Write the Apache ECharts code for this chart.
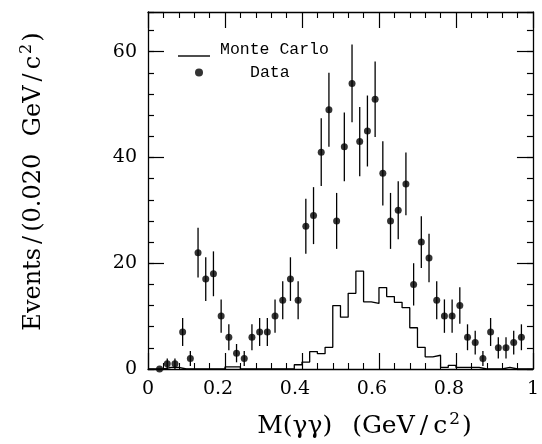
<!DOCTYPE html>
<html>
<head>
<meta charset="utf-8">
<style>
  html, body { margin: 0; padding: 0; background: #fff; }
  #chart { width: 542px; height: 444px; }
</style>
<script src="https://cdn.jsdelivr.net/npm/echarts@6/dist/echarts.min.js"></script>
</head>
<body>
<div id="chart"></div>
<script>
// Two-photon invariant mass spectrum, 0.020 GeV/c^2 bins from 0 to 1 GeV/c^2.
const binWidth = 0.02;

// Observed events per bin (null = no entry drawn)
const dataCounts = [
  null, 0, 1, 1, 7, 2, 22, 17, 18, 10,
  6, 3, 2, 6, 7, 7, 10, 13, 17, 13,
  27, 29, 41, 49, 28, 42, 54, 43, 45, 51,
  37, 28, 30, 35, 16, 24, 21, 13, 10, 10,
  12, 6, 5, 2, 7, 4, 4, 5, 6, null
];

// Monte Carlo expectation per bin
const mcCounts = [
  0, 0, 0.3, 0.3, 0, 0, 0, 0, 0, 0,
  0.4, 0.4, 0, 0, 0, 0, 0, 0, 0, 0.8,
  1.3, 3.3, 2.9, 4.1, 12.0, 9.8, 14.3, 18.5, 12.7, 12.4,
  15.4, 13.7, 12.6, 11.6, 7.8, 4.1, 2.3, 2.6, 0.3, 0.7,
  0.3, 0.3, 0.3, 0, 0, 0, 0.3, 0, 0, 0
];

const xTicks = [0, 0.2, 0.4, 0.6, 0.8, 1];
const yTicks = [0, 20, 40, 60];

// Points at bin centres with Poisson errors
const dataPoints = [];
const errPoints = [];
dataCounts.forEach((n, i) => {
  if (n === null) return;
  const x = +(binWidth * i + binWidth / 2).toFixed(3);
  dataPoints.push([x, n]);
  errPoints.push([x, n, Math.sqrt(n)]);
});

// Histogram outline: left bin edges plus the closing right edge
const mcSteps = mcCounts.map((v, i) => [+(binWidth * i).toFixed(3), v]);
mcSteps.push([+(binWidth * mcCounts.length).toFixed(3), mcCounts[mcCounts.length - 1]]);

const serif = 'DejaVu Serif';
const mono = 'Liberation Mono';
const ink = '#000';

// rich-text pieces for the axis titles (wide slashes, raised exponent)
function titleRich(size, slashPad, spacePad) {
  return {
    t: { fontFamily: serif, fontSize: size, color: ink, lineHeight: size + 6 },
    s: { fontFamily: serif, fontSize: size, color: ink, padding: [0, slashPad, 0, slashPad], lineHeight: size + 6 },
    w: { fontFamily: serif, fontSize: size, color: ink, padding: [0, spacePad, 0, spacePad], lineHeight: size + 6 },
    sup: { fontFamily: serif, fontSize: Math.round(size * 0.66), color: ink, verticalAlign: 'top', lineHeight: 12, padding: [0, 2, 0, 2] }
  };
}

function xAxisDef(pos, labels) {
  return {
    type: 'value', position: pos, min: 0, max: 1, interval: 0.2,
    axisLine: { show: true, onZero: false, lineStyle: { color: ink, width: 1.3 } },
    axisTick: { show: true, inside: true, length: 16, lineStyle: { color: ink, width: 1.2 } },
    minorTick: { show: true, splitNumber: 5, length: 6, lineStyle: { color: ink, width: 1.1 } },
    splitLine: { show: false },
    axisLabel: labels ? {
      show: true, margin: 11, color: ink, fontFamily: serif, fontSize: 19,
      formatter: v => {
        const s = xTicks.includes(+v.toFixed(2)) ? String(+v.toFixed(1)) : '';
        return s.length > 1 ? '{d|' + s + '}' : s;
      },
      rich: { d: { fontFamily: serif, fontSize: 19, color: ink, padding: [0, 14, 0, 0] } }
    } : { show: false }
  };
}

function yAxisDef(pos, interval, tickLen, labels, line) {
  return {
    type: 'value', position: pos, min: 0, max: 67.5, interval: interval,
    axisLine: { show: line, onZero: false, lineStyle: { color: ink, width: 1.3 } },
    axisTick: { show: true, inside: true, length: tickLen, lineStyle: { color: ink, width: 1.2 } },
    splitLine: { show: false },
    axisLabel: labels ? {
      show: true, margin: 11, color: ink, fontFamily: serif, fontSize: 19,
      formatter: v => (yTicks.includes(v) ? String(v) : '')
    } : { show: false }
  };
}

const yMain = yAxisDef('left', 20, 16, true, true);
yMain.name = '{t|Events}{s|/}{t|(0.020}{w| }{t|GeV}{s|/}{t|c}{sup|2}{t|)}';
yMain.nameLocation = 'middle';
yMain.nameGap = 99;
yMain.nameTextStyle = { fontFamily: serif, fontSize: 24, color: ink, padding: [0, 0, 0, 18], rich: titleRich(24, 4, 5) };

const xMain = xAxisDef('bottom', true);
xMain.name = '{t|M(γγ)}{w|  }{t|(GeV}{s|/}{t|c}{sup|2}{t|)}';
xMain.nameLocation = 'middle';
xMain.nameGap = 42;
xMain.nameTextStyle = { fontFamily: serif, fontSize: 25, color: ink, padding: [0, 0, 0, 48], rich: titleRich(25, 5, 2) };

const legendText = { fontFamily: mono, fontSize: 16.5, color: ink };

const chart = echarts.init(document.getElementById('chart'), null, { renderer: 'canvas' });
chart.setOption({
  backgroundColor: '#fff',
  animation: false,
  grid: { left: 148, right: 2, top: 12, bottom: 74, containLabel: false },
  xAxis: [xMain, xAxisDef('top', false)],
  yAxis: [
    yMain,
    yAxisDef('right', 20, 16, false, true),
    yAxisDef('left', 4, 6, false, false),
    yAxisDef('right', 4, 6, false, false)
  ],
  legend: [
    {
      data: [{ name: 'Monte Carlo', icon: 'rect' }],
      left: 178, top: 41, padding: 0,
      itemWidth: 32, itemHeight: 1.4,
      selectedMode: false,
      formatter: '{a|{name}}',
      textStyle: Object.assign({}, legendText, { rich: { a: Object.assign({}, legendText, { padding: [0, 0, 13, 5] }) } })
    },
    {
      data: [{ name: 'Data', icon: 'circle' }],
      left: 195, top: 64, padding: 0,
      itemWidth: 8, itemHeight: 8,
      selectedMode: false,
      formatter: '{a|{name}}',
      textStyle: Object.assign({}, legendText, { rich: { a: Object.assign({}, legendText, { padding: [0, 0, 0, 42] }) } })
    }
  ],
  series: [
    {
      name: 'Monte Carlo', type: 'line', step: 'end',
      xAxisIndex: 0, yAxisIndex: 0,
      data: mcSteps, showSymbol: false, symbol: 'none',
      itemStyle: { color: ink },
      lineStyle: { color: ink, width: 1.3 },
      z: 3
    },
    {
      name: 'Data errors', type: 'custom',
      xAxisIndex: 0, yAxisIndex: 0,
      data: errPoints,
      renderItem: (params, api) => {
        const e = api.value(2);
        if (!e) return null;
        const x = api.value(0), y = api.value(1);
        const lo = api.coord([x, y - e]);
        const hi = api.coord([x, y + e]);
        return {
          type: 'line',
          shape: { x1: lo[0], y1: lo[1], x2: hi[0], y2: hi[1] },
          style: { stroke: ink, lineWidth: 1.3 }
        };
      },
      z: 4
    },
    {
      name: 'Data', type: 'scatter',
      xAxisIndex: 0, yAxisIndex: 0,
      data: dataPoints, symbol: 'circle', symbolSize: 7,
      itemStyle: { color: ink },
      z: 5
    }
  ]
});
</script>
</body>
</html>
